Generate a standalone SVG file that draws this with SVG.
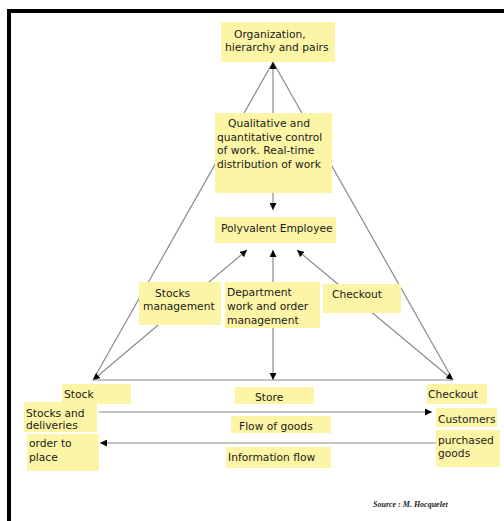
<svg xmlns="http://www.w3.org/2000/svg" width="504" height="521" viewBox="0 0 504 521">
<style>
.box{fill:#fdf5a6;stroke:none}
.t{font-family:"DejaVu Sans",sans-serif;font-size:10.7px;fill:#1a1a1a}
.ln{stroke:#8a8a8a;stroke-width:1.2;fill:none}
.src{font-family:"Liberation Serif",serif;font-style:italic;font-weight:bold;font-size:8px;fill:#222}
</style>
<defs>
<marker id="ah" viewBox="0 0 10 10" refX="10" refY="5" markerWidth="7" markerHeight="7" markerUnits="userSpaceOnUse" orient="auto-start-reverse">
<path d="M0,0 L10,5 L0,10 z" fill="#000"/>
</marker>
</defs>
<rect width="504" height="521" fill="#fff"/>
<path d="M9,521 V11 H504" fill="none" stroke="#000" stroke-width="4"/>
<g id="connectors">
<line class="ln" x1="273" y1="62" x2="93" y2="380"/>
<line class="ln" x1="273" y1="62" x2="453" y2="380"/>
<line class="ln" x1="273" y1="113" x2="273" y2="62" marker-end="url(#ah)"/>
<line class="ln" x1="273" y1="193" x2="273" y2="210" marker-end="url(#ah)"/>
<line class="ln" x1="93" y1="380" x2="247" y2="250" marker-start="url(#ah)" marker-end="url(#ah)"/>
<line class="ln" x1="273" y1="380" x2="273" y2="250" marker-start="url(#ah)" marker-end="url(#ah)"/>
<line class="ln" x1="453" y1="380" x2="297" y2="250" marker-start="url(#ah)" marker-end="url(#ah)"/>
<line class="ln" x1="93" y1="380" x2="453" y2="380"/>
<line class="ln" x1="99" y1="412" x2="432" y2="412" marker-end="url(#ah)"/>
<line class="ln" x1="436" y1="443" x2="100" y2="443" marker-end="url(#ah)"/>
</g>
<g id="organization"><rect class="box" x="221" y="22" width="114" height="40"/>
<text class="t" x="234" y="38">Organization,</text><text class="t" x="225" y="51">hierarchy and pairs</text></g>
<g id="qualitative"><rect class="box" x="215" y="113" width="117" height="80"/>
<text class="t" x="228" y="127">Qualitative and</text><text class="t" x="217" y="140.5">quantitative control</text><text class="t" x="217" y="154">of work. Real-time</text><text class="t" x="217" y="167.5">distribution of work</text></g>
<g id="polyvalent"><rect class="box" x="215" y="217" width="121" height="26"/>
<text class="t" x="221" y="232">Polyvalent Employee</text></g>
<g id="stocks-management"><rect class="box" x="139" y="282" width="82" height="43"/>
<text class="t" x="155" y="297">Stocks</text><text class="t" x="143" y="310">management</text></g>
<g id="department"><rect class="box" x="225" y="282" width="95" height="46"/>
<text class="t" x="227" y="296">Department</text><text class="t" x="227" y="310">work and order</text><text class="t" x="227" y="324">management</text></g>
<g id="checkout-mid"><rect class="box" x="323" y="284" width="78" height="29"/>
<text class="t" x="332" y="298">Checkout</text></g>
<g id="stock"><rect class="box" x="62" y="384" width="69" height="20"/>
<text class="t" x="64" y="398">Stock</text></g>
<g id="store"><rect class="box" x="235" y="387" width="79" height="17"/>
<text class="t" x="255" y="401">Store</text></g>
<g id="checkout-right"><rect class="box" x="427" y="384" width="60" height="20"/>
<text class="t" x="428" y="398">Checkout</text></g>
<g id="stocks-deliveries"><rect class="box" x="24" y="402" width="73" height="30"/>
<text class="t" x="26" y="417">Stocks and</text><text class="t" x="26" y="429">deliveries</text></g>
<g id="customers"><rect class="box" x="436" y="408" width="61" height="19"/>
<text class="t" x="438" y="423">Customers</text></g>
<g id="flow-goods"><rect class="box" x="231" y="416" width="100" height="17"/>
<text class="t" x="239" y="430">Flow of goods</text></g>
<g id="order-place"><rect class="box" x="27" y="434" width="72" height="37"/>
<text class="t" x="29" y="447">order to</text><text class="t" x="29" y="461">place</text></g>
<g id="purchased"><rect class="box" x="436" y="430" width="64" height="37"/>
<text class="t" x="438" y="444">purchased</text><text class="t" x="438" y="457">goods</text></g>
<g id="info-flow"><rect class="box" x="226" y="447" width="105" height="21"/>
<text class="t" x="228" y="461">Information flow</text></g>
<text class="src" x="373" y="507">Source : M. Hocquelet</text>
</svg>
